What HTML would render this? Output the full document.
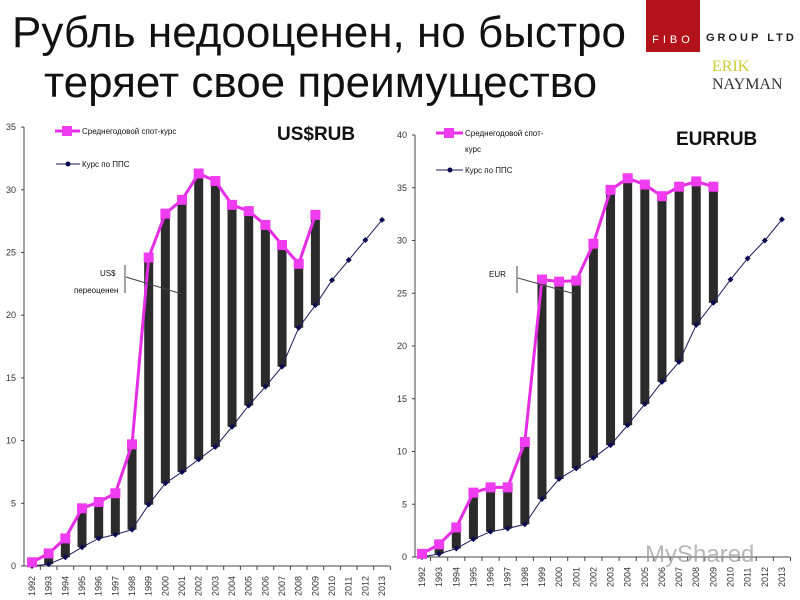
<!DOCTYPE html>
<html><head><meta charset="utf-8"><style>
body{margin:0;width:800px;height:600px;background:#fff;overflow:hidden;font-family:"Liberation Sans",sans-serif;position:relative}
.t{position:absolute;font-size:44px;color:#111;white-space:nowrap}
</style></head><body>
<div class="t" style="left:12px;top:8px">Рубль недооценен, но быстро</div>
<div class="t" style="left:44px;top:58px">теряет свое преимущество</div>
<div style="position:absolute;left:646px;top:0;width:54px;height:52px;background:#b3121a;color:#fff;font-size:11px;letter-spacing:4px;text-align:center;line-height:80px">FIBO</div>
<div style="position:absolute;left:706px;top:32px;font-size:11px;letter-spacing:3px;font-weight:bold;color:#222">GROUP LTD</div>
<div style="position:absolute;left:712px;top:58px;font-family:'Liberation Serif',serif;font-size:16px;color:#333"><span style="color:#cc3">ERIK</span><br>NAYMAN</div>
<svg id="s" width="800" height="600" style="position:absolute;left:0;top:0"></svg>
<script>
const years=["1992","1993","1994","1995","1996","1997","1998","1999","2000","2001","2002","2003","2004","2005","2006","2007","2008","2009","2010","2011","2012","2013"];
const usdSpot=[0.3,1.0,2.2,4.6,5.1,5.8,9.7,24.6,28.1,29.2,31.3,30.7,28.8,28.3,27.2,25.6,24.1,28.0];
const usdPpp=[0,0.15,0.7,1.5,2.2,2.5,2.9,4.9,6.6,7.5,8.5,9.5,11.1,12.8,14.3,15.9,19.0,20.8,22.8,24.4,26.0,27.6];
const usdTicks=[0,5,10,15,20,25,30,35];
const eurSpot=[0.3,1.2,2.8,6.1,6.6,6.6,10.9,26.3,26.1,26.2,29.7,34.8,35.9,35.3,34.2,35.1,35.6,35.1];
const eurPpp=[0,0.3,0.8,1.7,2.4,2.7,3.1,5.5,7.4,8.4,9.4,10.6,12.5,14.5,16.6,18.5,22.0,24.1,26.3,28.3,30.0,32.0];
const eurTicks=[0,5,10,15,20,25,30,35,40];
const s=document.getElementById('s');const NS='http://www.w3.org/2000/svg';
function el(t,a,txt){const e=document.createElementNS(NS,t);for(const k in a)e.setAttribute(k,a[k]);if(txt!==undefined)e.textContent=txt;s.appendChild(e);return e;}
function chart(c){
 const X=i=>c.x0+i*c.step, Y=v=>c.y0-v*c.py;
 let e=el('line',{x1:c.ax,y1:Y(c.ticks[c.ticks.length-1]),x2:c.ax,y2:c.y0,stroke:'#444'});
 
 e=el('line',{x1:c.ax,y1:c.y0,x2:X(21)+8,y2:c.y0,stroke:'#444'});
 
 c.ticks.forEach(t=>{e=el('text',{x:c.ax-8,y:Y(t)+3,'font-size':9,'text-anchor':'end',fill:'#333'},t);
  
  el('line',{x1:c.ax-3,y1:Y(t),x2:c.ax,y2:Y(t),stroke:'#444'});});
 years.forEach((y,i)=>{el('line',{x1:X(i)+c.step/2,y1:c.y0,x2:X(i)+c.step/2,y2:c.y0+4,stroke:'#444'});
  e=el('text',{transform:`translate(${X(i)+3},${c.y0+30}) rotate(-90)`,'font-size':9,fill:'#333'},y);
  });
 c.spot.forEach((v,i)=>{e=el('rect',{x:X(i)-4.5,y:Y(v),width:9,height:Y(c.ppp[i])-Y(v),fill:'#2b2b2b'});
  });
 e=el('polyline',{points:c.ppp.map((v,i)=>X(i)+','+Y(v)).join(' '),fill:'none',stroke:'#1a1a5a','stroke-width':1});
 
 c.ppp.forEach((v,i)=>{e=el('path',{d:`M${X(i)-3} ${Y(v)}L${X(i)} ${Y(v)-3}L${X(i)+3} ${Y(v)}L${X(i)} ${Y(v)+3}Z`,fill:'#0a0a50'});
  });
 e=el('polyline',{points:c.spot.map((v,i)=>X(i)+','+Y(v)).join(' '),fill:'none',stroke:'#e62de6','stroke-width':3});
 
 c.spot.forEach((v,i)=>{e=el('rect',{x:X(i)-5,y:Y(v)-5,width:10,height:10,fill:'#f03cf0'});
  });
}
chart({n:'usd',ax:24,x0:32,step:16.67,y0:566,py:12.54,ticks:usdTicks,spot:usdSpot,ppp:usdPpp});
chart({n:'eur',ax:415,x0:422,step:17.14,y0:557,py:10.55,ticks:eurTicks,spot:eurSpot,ppp:eurPpp});
function T(x,y,sz,t,n,w){const e=el('text',{x:x,y:y,'font-size':sz,fill:'#111','font-weight':w||'normal'},t);}
T(277,140,19,'US$RUB','usd-chart-title','bold');T(676,145,19,'EURRUB','eur-chart-title','bold');
el('line',{x1:55,y1:131,x2:80,y2:131,stroke:'#e62de6','stroke-width':3});el('rect',{x:62,y:126,width:10,height:10,fill:'#f03cf0'});
T(82,134,8,'Среднегодовой спот-курс','usd-legend-spot');
el('line',{x1:56,y1:164,x2:80,y2:164,stroke:'#1a1a5a'});el('circle',{cx:68,cy:164,r:2.5,fill:'#0a0a50'});
T(82,167,8,'Курс по ППС','usd-legend-ppp');
el('line',{x1:436,y1:133,x2:463,y2:133,stroke:'#e62de6','stroke-width':3});el('rect',{x:444,y:128,width:10,height:10,fill:'#f03cf0'});
T(465,136,8,'Среднегодовой спот-','eur-legend-spot');T(465,152,8,'курс','eur-legend-spot-2');
el('line',{x1:436,y1:170,x2:463,y2:170,stroke:'#1a1a5a'});el('circle',{cx:450,cy:170,r:2.5,fill:'#0a0a50'});
T(465,173,8,'Курс по ППС','eur-legend-ppp');
T(100,276,8,'US$','usd-annotation');T(74,293,8,'переоценен','usd-annotation-2');
el('line',{x1:125,y1:265,x2:125,y2:293,stroke:'#444'});el('line',{x1:126,y1:277,x2:182,y2:294,stroke:'#444'});
T(489,277,8,'EUR','eur-annotation');
el('line',{x1:517,y1:266,x2:517,y2:293,stroke:'#444'});el('line',{x1:518,y1:278,x2:575,y2:294,stroke:'#444'});
const w=el('text',{x:645,y:562,'font-size':24,fill:'#999','opacity':0.7},'MyShared');
</script>
</body></html>
